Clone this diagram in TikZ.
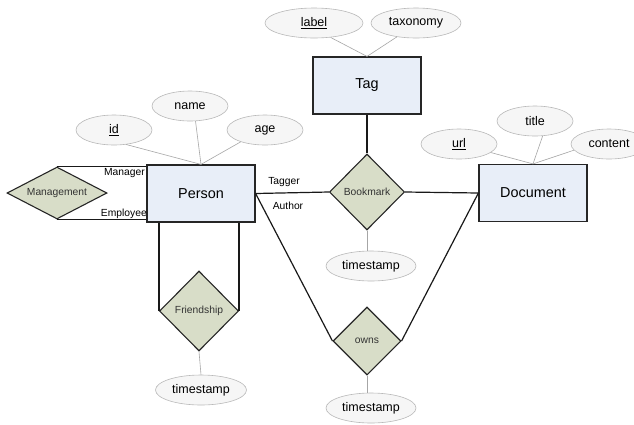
\documentclass[tikz,border=0pt]{standalone}
\usepackage{fontspec}
\setmainfont{Liberation Sans}
\usetikzlibrary{shapes.geometric}

\definecolor{entityfill}{RGB}{232,238,248}
\definecolor{relfill}{RGB}{216,221,200}
\definecolor{attrfill}{RGB}{246,246,246}
\definecolor{attrdraw}{RGB}{185,185,185}

\begin{document}
\begin{tikzpicture}[x=1pt, y=-1pt,
    entity/.style={draw=black!85, line width=1.2pt, fill=entityfill, minimum width=108pt, minimum height=57pt, inner sep=0pt, font=\fontsize{14.4}{16}\selectfont},
    relation/.style={diamond, draw=black!85, line width=1.1pt, fill=relfill, inner sep=0pt, font=\fontsize{10.3}{12}\selectfont, text=black!80},
    attribute/.style={ellipse, draw=attrdraw, line width=0.6pt, fill=attrfill, minimum width=76pt, minimum height=30pt, inner sep=0pt, font=\fontsize{12.5}{14}\selectfont},
    role/.style={font=\fontsize{10.3}{12}\selectfont, inner sep=0pt},
    link/.style={line width=1.2pt, black!90},
    attrlink/.style={line width=0.6pt, gray!70}]

    \fill[white] (0,0) rectangle (634,424);
    \useasboundingbox (0,0) rectangle (634,424);

    % Entities
    \node[entity] (person) at (201,193.5) {Person};
    \node[entity] (tag) at (367,85.5) {Tag};
    \node[entity] (document) at (533,193) {Document};

    % Relationships
    \node[relation, minimum width=75pt, minimum height=76pt] (bookmark) at (367,192) {Bookmark};
    \node[relation, aspect=1.9, minimum width=100pt, minimum height=52pt] (management) at (57,193) {Management};
    \node[relation, minimum width=79pt, minimum height=80pt] (friendship) at (199,311) {Friendship};
    \node[relation, minimum width=68pt, minimum height=68pt] (owns) at (367,341) {owns};

    % Attributes
    \node[attribute] (id) at (114,130) {\underline{id}};
    \node[attribute] (name) at (190,106) {name};
    \node[attribute] (age) at (265,130) {age};
    \node[attribute, minimum width=98pt] (label) at (314,23) {\underline{label}};
    \node[attribute, minimum width=90pt] (taxonomy) at (416,23) {taxonomy};
    \node[attribute] (url) at (459,144) {\underline{url}};
    \node[attribute] (title) at (535,121) {title};
    \node[attribute] (content) at (609,144) {content};
    \node[attribute, minimum width=90pt] (tsbookmark) at (371,266) {timestamp};
    \node[attribute, minimum width=91pt] (tsfriendship) at (201,390) {timestamp};
    \node[attribute, minimum width=90pt] (tsowns) at (371,408) {timestamp};

    % Roles
    \node[role, anchor=east] (manager) at (145,173) {Manager};
    \node[role, anchor=east] (employee) at (147,214) {Employee};
    \node[role] (tagger) at (284,182) {Tagger};
    \node[role] (author) at (288,206) {Author};

    % Relationship links
    \draw[link] (person.east) -- (bookmark.west);
    \draw[link] (bookmark.east) -- (document.west);
    \draw[link] (tag.south) -- (bookmark.north);
    \draw[link] (person.east) -- (owns.west);
    \draw[link] (document.west) -- (owns.east);
    \draw[link] (management.north) -- (management.north -| person.west);
    \draw[link] (management.south) -- (management.south -| person.west);
    \draw[link] (friendship.west) -- (friendship.west |- person.south);
    \draw[link] (friendship.east) -- (friendship.east |- person.south);

    % Attribute links
    \draw[attrlink] (id.-50) -- (person.north);
    \draw[attrlink] (name.-70) -- (person.north);
    \draw[attrlink] (age.206) -- (person.north);
    \draw[attrlink] (label.-41) -- (tag.north);
    \draw[attrlink] (taxonomy.216) -- (tag.north);
    \draw[attrlink] (url.-15) -- (document.north);
    \draw[attrlink] (title.-63) -- (document.north);
    \draw[attrlink] (content.190) -- (document.north);
    \draw[attrlink] (bookmark.south) -- (bookmark.south |- tsbookmark.north);
    \draw[attrlink] (friendship.south) -- (tsfriendship.north);
    \draw[attrlink] (owns.south) -- (owns.south |- tsowns.north);
\end{tikzpicture}
\end{document}
